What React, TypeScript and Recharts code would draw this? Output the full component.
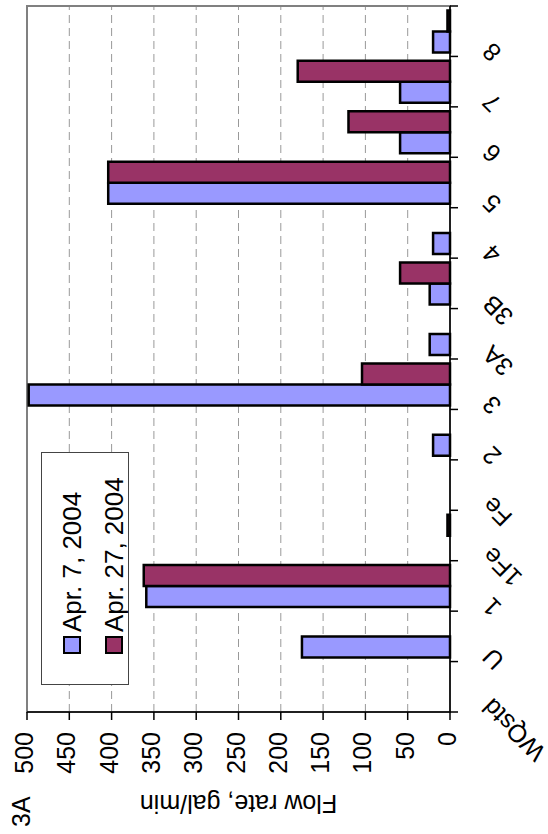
import React from "react";
import {
  BarChart,
  Bar,
  XAxis,
  YAxis,
  CartesianGrid,
  Legend,
  ReferenceArea,
} from "recharts";

// Sampling locations along the stream
const stations = ["WQstd", "U", "1", "1Fe", "Fe", "2", "3", "3A", "3B", "4", "5", "6", "7", "8"];

// Flow rate (gal/min) per survey; null = not measured
const apr7 = [null, 175, 359, null, null, 20, 498, 24, 24, 20, 404, 59, 59, 20];
const apr27 = [null, null, 362, 3, null, null, 104, null, 59, null, 404, 120, 180, 3];

const flowTicks = [0, 50, 100, 150, 200, 250, 300, 350, 400, 450, 500];

const series = [
  { key: "apr7", name: "Apr. 7, 2004", color: "#9999FF" },
  { key: "apr27", name: "Apr. 27, 2004", color: "#993366" },
];

const data = stations.map((station, i) => ({
  station,
  apr7: apr7[i],
  apr27: apr27[i],
}));

const FONT = "'Liberation Sans', Arial, sans-serif";
const W = 834;
const H = 548;

// category ticks sit between the groups, labels slanted up to the right
const StationTick = (props: any) => {
  const { x, y, payload, index, visibleTicksCount } = props;
  const half = payload.offset ?? 0;
  const tx = x - 10;
  const ty = y + 43;
  return (
    <g>
      <line x1={x - half} y1={y} x2={x - half} y2={y + 8} stroke="#000" strokeWidth={1.5} />
      {index === visibleTicksCount - 1 && (
        <line x1={x + half} y1={y} x2={x + half} y2={y + 8} stroke="#000" strokeWidth={1.5} />
      )}
      <text
        x={tx}
        y={ty}
        transform={`rotate(-45, ${tx}, ${ty})`}
        textAnchor="end"
        fontSize={25}
        fontFamily={FONT}
        fill="#000"
      >
        {payload.value}
      </text>
    </g>
  );
};

const FlowTick = (props: any) => {
  const { x, y, payload } = props;
  return (
    <text x={x} y={y} dy={6} textAnchor="end" fontSize={25} fontFamily={FONT} fill="#000">
      {payload.value}
    </text>
  );
};

const FlowTitle = (props: any) => {
  const { viewBox } = props;
  const cx = viewBox.x + 39;
  const cy = viewBox.y + viewBox.height / 2;
  return (
    <text
      x={cx}
      y={cy}
      transform={`rotate(-90, ${cx}, ${cy})`}
      textAnchor="middle"
      fontSize={25}
      fontFamily={FONT}
      fill="#000"
    >
      Flow rate, gal/min
    </text>
  );
};

const LegendBox = () => (
  <div
    style={{
      width: 233,
      height: 88,
      boxSizing: "border-box",
      border: "1px solid #444",
      background: "#fff",
      fontFamily: FONT,
      fontSize: 26,
      color: "#000",
      paddingTop: 9,
      paddingLeft: 30,
    }}
  >
    {series.map((s) => (
      <div key={s.key} style={{ display: "flex", alignItems: "center", height: 42, lineHeight: "42px" }}>
        <span
          style={{
            width: 18,
            height: 18,
            boxSizing: "border-box",
            border: "2.5px solid #000",
            background: s.color,
            marginRight: 4,
          }}
        />
        <span>{s.name}</span>
      </div>
    ))}
  </div>
);

export default function App() {
  return (
    <div
      style={{
        position: "absolute",
        left: 0,
        top: 0,
        width: H,
        height: W,
        overflow: "hidden",
        background: "#fff",
      }}
    >
      {/* chart is laid out landscape, then turned a quarter turn counter-clockwise */}
      <div
        style={{
          position: "absolute",
          left: 0,
          top: 0,
          width: W,
          height: H,
          transformOrigin: "0 0",
          transform: `translate(0px, ${W}px) rotate(-90deg)`,
        }}
      >
        <BarChart
          width={W}
          height={H}
          data={data}
          margin={{ top: 27, right: 6, bottom: 0, left: 0 }}
          barCategoryGap="8%"
          barGap={0}
        >
          <CartesianGrid vertical={false} stroke="#999" strokeDasharray="8 5" />
          <ReferenceArea y1={0} y2={500} fill="none" stroke="#808080" strokeWidth={2} />
          <XAxis
            dataKey="station"
            height={98}
            interval={0}
            tickSize={0}
            tickMargin={0}
            tickLine={false}
            axisLine={{ stroke: "#000", strokeWidth: 1.5 }}
            tick={<StationTick />}
          />
          <YAxis
            width={122}
            domain={[0, 500]}
            ticks={flowTicks}
            interval={0}
            tickSize={8}
            tickMargin={12}
            axisLine={{ stroke: "#000", strokeWidth: 1.5 }}
            tickLine={{ stroke: "#000", strokeWidth: 1.5 }}
            tick={<FlowTick />}
            label={<FlowTitle />}
          />
          <Legend
            layout="vertical"
            align="center"
            verticalAlign="middle"
            content={<LegendBox />}
            wrapperStyle={{ left: 149, top: 41, width: 233, height: 88 }}
          />
          {series.map((s) => (
            <Bar
              key={s.key}
              dataKey={s.key}
              name={s.name}
              fill={s.color}
              stroke="#000"
              strokeWidth={2.5}
              isAnimationActive={false}
            />
          ))}
        </BarChart>
        <div
          style={{
            position: "absolute",
            left: 7,
            top: 7,
            fontFamily: FONT,
            fontSize: 25,
            lineHeight: "28px",
            color: "#000",
          }}
        >
          3A
        </div>
      </div>
    </div>
  );
}
